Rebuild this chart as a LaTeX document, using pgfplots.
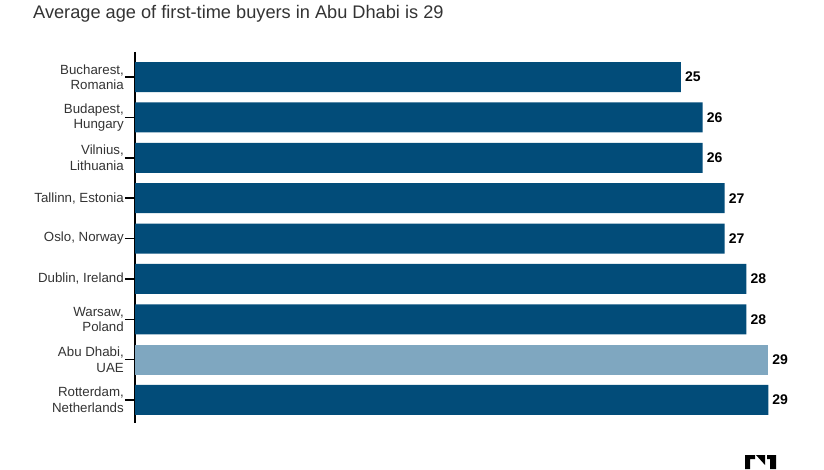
\documentclass[border=0pt]{standalone}
\usepackage{fontspec}
\setmainfont{Liberation Sans}
\usepackage{pgfplots}
\pgfplotsset{compat=1.18}
\definecolor{darkbar}{HTML}{024C79}
\definecolor{lightbar}{HTML}{7FA7C0}
\definecolor{txt}{HTML}{333333}
\begin{document}
\begin{tikzpicture}[x=1pt,y=1pt]
\path[use as bounding box] (0,0) rectangle (824,469);
\node[anchor=base west, inner sep=0pt, text=txt, font=\fontsize{18.2}{21}\selectfont] at (33,450) {Average age of first-time buyers in Abu Dhabi is 29};
\begin{axis}[
  at={(135pt,46pt)}, anchor=south west,
  scale only axis, width=666pt, height=371pt,
  xbar, bar shift=0pt, bar width=30pt,
  xmin=0, xmax=30.5,
  ymin=-0.62, ymax=8.57, y dir=reverse,
  hide x axis,
  axis y line*=left,
  y axis line style={line width=1.5pt, -},
  ytick={0,...,8},
  yticklabels={{Bucharest,\\Romania},{Budapest,\\Hungary},{Vilnius,\\Lithuania},{Tallinn, Estonia},{Oslo, Norway},{Dublin, Ireland},{Warsaw,\\Poland},{Abu Dhabi,\\UAE},{Rotterdam,\\Netherlands}},
  tick label style={font=\fontsize{13.3}{15.5}\selectfont},
  yticklabel style={align=right, text=txt, font=\fontsize{13.3}{15.5}\selectfont, inner sep=1pt},
  major tick length=10pt, tick align=outside, ytick pos=left,
  tick style={line width=1.5pt, black},
  nodes near coords,
  nodes near coords style={anchor=west, inner sep=0pt, xshift=4pt, font=\fontsize{14}{16}\selectfont\bfseries, text=black, /pgf/number format/assume math mode=true},
  clip=false,
]
\addplot[fill=darkbar, draw=none] coordinates {(25,0) (26,1) (26,2) (27,3) (27,4) (28,5) (28,6) (29,8)};
\addplot[fill=lightbar, draw=none] coordinates {(29,7)};
\end{axis}
% logo
\fill[black] (745,0) -- (745,14) -- (755,14) -- (755,10) -- (750,10) -- (750,0) -- cycle;
\fill[black] (756,14) -- (765,14) -- (765,4) -- cycle;
\fill[black] (767,14) -- (776,14) -- (776,0) -- (770,0) -- (770,10) -- (767,10) -- cycle;
\end{tikzpicture}
\end{document}
